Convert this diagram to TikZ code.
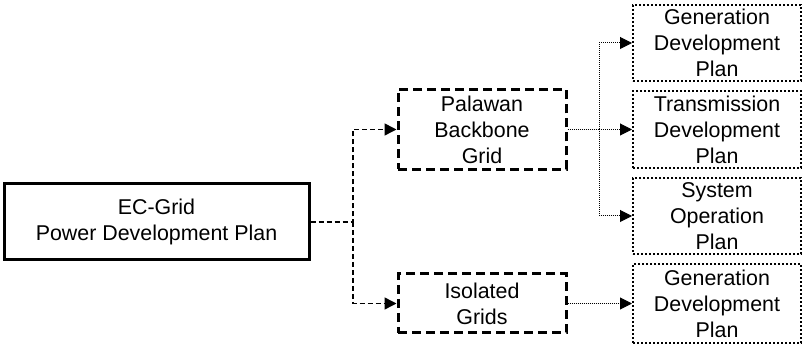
\documentclass[tikz,border=0pt]{standalone}
\usepackage{fontspec}
\setmainfont{Liberation Sans}
\usetikzlibrary{arrows.meta}
\begin{document}
\begin{tikzpicture}[x=1pt,y=-1pt,
  every node/.style={font=\fontsize{21.4}{26}\selectfont, align=center, inner sep=0pt},
  solidbox/.style={draw, line width=3pt, minimum width=305pt, minimum height=76pt},
  dashbox/.style={draw, line width=3pt, dash pattern=on 9pt off 5pt, minimum width=168pt},
  dotbox/.style={draw, line width=2pt, dash pattern=on 2pt off 2pt, minimum width=168pt},
  dashconn/.style={line width=1.5pt, dash pattern=on 5pt off 3pt, -{Triangle[length=12pt,width=12pt]}},
  dotconn/.style={line width=1pt, dash pattern=on 1pt off 1pt, -{Triangle[length=12pt,width=12pt]}}]
\useasboundingbox (0,0) rectangle (804,347);
\node[solidbox] (ec) at (156.5,222) {EC-Grid\\Power Development Plan};
\node[dashbox, minimum height=80pt] (pal) at (482,129.5) {Palawan\\Backbone\\Grid};
\node[dashbox, minimum height=59pt] (iso) at (482,303.5) {Isolated\\Grids};
\node[dotbox, minimum height=76pt] (g1) at (717,43) {Generation\\Development\\Plan};
\node[dotbox, minimum height=77pt] (g2) at (717,129.5) {Transmission\\Development\\Plan};
\node[dotbox, minimum height=76pt] (g3) at (717,216) {System\\Operation\\Plan};
\node[dotbox, minimum height=79pt] (g4) at (717,303.5) {Generation\\Development\\Plan};
\coordinate (j) at (353,222);
\coordinate (k) at (599,129.5);
\draw[dashconn] (ec.east) -- (j) |- (pal.west);
\draw[dashconn] (j) |- (iso.west);
\draw[dotconn] (pal.east) -- (k) |- (g1.west);
\draw[dotconn] (k) -- (g2.west);
\draw[dotconn] (k) |- (g3.west);
\draw[dotconn] (iso.east) -- (g4.west);
\end{tikzpicture}
\end{document}
